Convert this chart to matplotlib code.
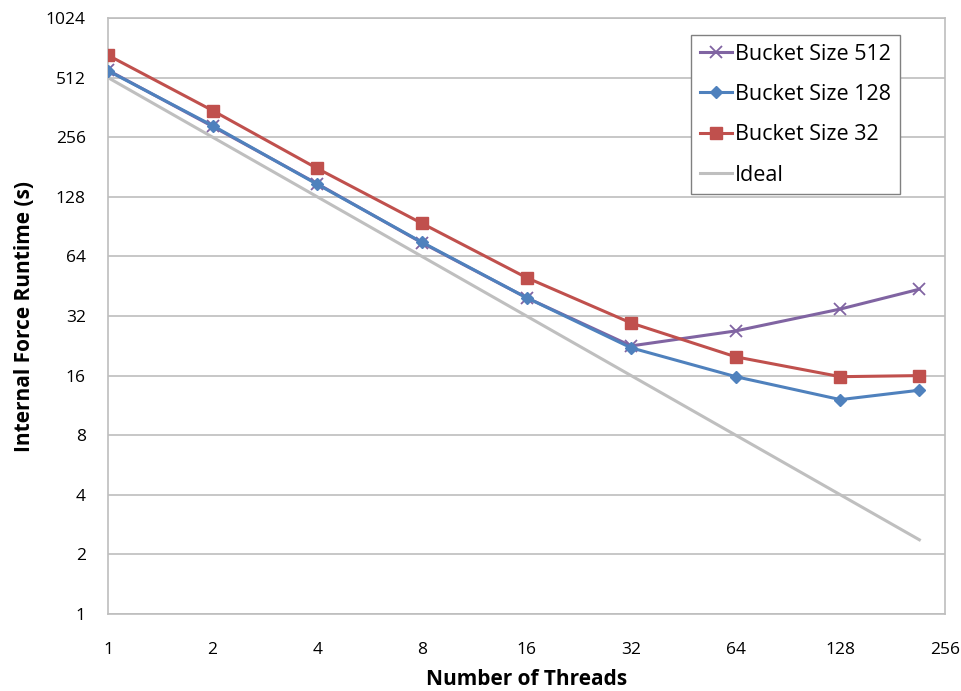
import matplotlib.pyplot as plt
from matplotlib.ticker import FixedLocator, FixedFormatter, NullLocator

threads = [1, 2, 4, 8, 16, 32, 64, 128, 216]
bucket_512 = [558, 290, 149, 75, 39.6, 22.6, 26.9, 34.7, 43.7]
bucket_128 = [554, 293, 148, 75.5, 39.6, 22.1, 15.8, 12.1, 13.5]
bucket_32 = [664, 349, 178, 94, 50, 29.5, 19.9, 15.8, 16.0]
ideal = [512 / t for t in threads]

ticks = [1, 2, 4, 8, 16, 32, 64, 128, 256, 512, 1024]

plt.rcParams['font.family'] = ['Open Sans', 'DejaVu Sans']

fig = plt.figure(figsize=(9.61, 6.91), dpi=100)
ax = fig.add_axes([108 / 961, 1 - 614 / 691, (945 - 108) / 961, (614 - 18) / 691])

ax.plot(threads, bucket_512, color='#8064A2', lw=2.2, marker='x', ms=9, mew=1.3,
        label='Bucket Size 512', zorder=3)
ax.plot(threads, bucket_128, color='#4F81BD', lw=2.2, marker='D', ms=6,
        label='Bucket Size 128', zorder=4)
ax.plot(threads, bucket_32, color='#C0504D', lw=2.2, marker='s', ms=8,
        label='Bucket Size 32', zorder=5)
ax.plot(threads, ideal, color='#BFBFBF', lw=2.2, label='Ideal', zorder=2)

ax.set_xscale('log', base=2)
ax.set_yscale('log', base=2)
ax.set_xlim(1, 256)
ax.set_ylim(1, 1024)

ax.xaxis.set_major_locator(FixedLocator(ticks[:9]))
ax.xaxis.set_major_formatter(FixedFormatter([str(t) for t in ticks[:9]]))
ax.xaxis.set_minor_locator(NullLocator())
ax.yaxis.set_major_locator(FixedLocator(ticks))
ax.yaxis.set_major_formatter(FixedFormatter([str(t) for t in ticks]))
ax.yaxis.set_minor_locator(NullLocator())

ax.tick_params(axis='x', length=0, pad=20, labelsize=12.5)
ax.tick_params(axis='y', length=0, pad=16, labelsize=12.5)
ax.grid(axis='y', color='#BEBEBE', lw=1.2)
for s in ax.spines.values():
    s.set_color('#BEBEBE')
    s.set_linewidth(1.2)

ax.set_xlabel('Number of Threads', fontsize=15, fontweight='bold', labelpad=8)
ax.set_ylabel('Internal Force Runtime (s)', fontsize=15, fontweight='bold', labelpad=8)

leg = ax.legend(loc='upper right', bbox_to_anchor=(0.946, 0.9715), borderaxespad=0,
                fontsize=15.5, fancybox=False, edgecolor='#808080', framealpha=1,
                handlelength=1.5, handletextpad=0.15, borderpad=0.4,
                labelspacing=0.9)
leg.get_frame().set_linewidth(1.0)

fig.savefig('out.png', dpi=100)
